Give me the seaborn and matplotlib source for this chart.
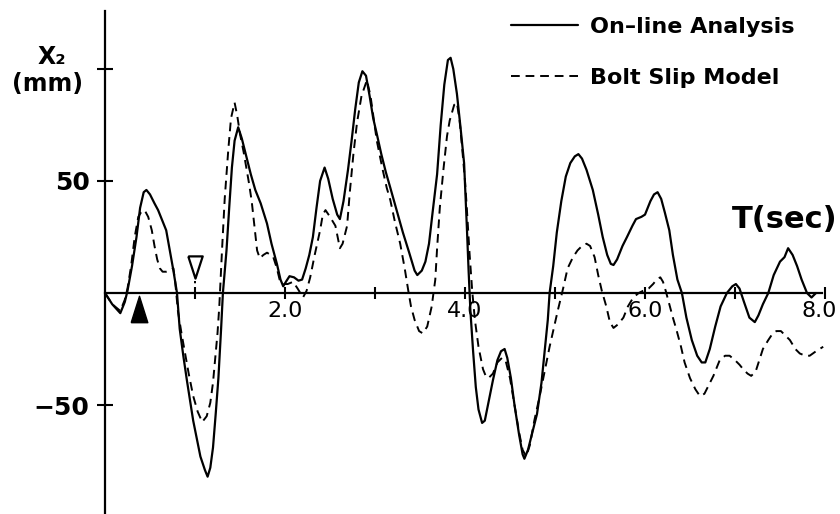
import numpy as np
import pandas as pd
import matplotlib
matplotlib.use("Agg")
import matplotlib.pyplot as plt
import matplotlib.transforms as mtransforms
import seaborn as sns

# time axis (sec) and displacement X2 (mm)
online_t = [0.00, 0.08, 0.17, 0.22, 0.25, 0.30, 0.35, 0.39, 0.43, 0.46, 0.50, 0.55, 0.59, 0.64,
            0.68, 0.72, 0.76, 0.80, 0.83, 0.87, 0.91, 0.98, 1.06, 1.11, 1.14, 1.17, 1.20, 1.23,
            1.26, 1.29, 1.31, 1.35, 1.38, 1.41, 1.44, 1.48, 1.52, 1.57, 1.62, 1.67, 1.73, 1.80,
            1.85, 1.91, 1.95, 1.98, 2.01, 2.05, 2.10, 2.15, 2.19, 2.23, 2.27, 2.31, 2.35, 2.39,
            2.44, 2.48, 2.53, 2.58, 2.61, 2.65, 2.70, 2.74, 2.78, 2.82, 2.86, 2.90, 2.94, 2.98,
            3.02, 3.07, 3.12, 3.17, 3.24, 3.31, 3.38, 3.44, 3.47, 3.52, 3.56, 3.60, 3.64, 3.69,
            3.73, 3.77, 3.81, 3.84, 3.87, 3.91, 3.95, 3.99, 4.02, 4.04, 4.06, 4.09, 4.12, 4.15,
            4.19, 4.22, 4.26, 4.31, 4.36, 4.40, 4.44, 4.47, 4.51, 4.55, 4.60, 4.64, 4.66, 4.70,
            4.75, 4.80, 4.85, 4.89, 4.92, 4.94, 4.98, 5.02, 5.07, 5.12, 5.17, 5.22, 5.26, 5.30,
            5.35, 5.42, 5.48, 5.53, 5.58, 5.62, 5.65, 5.69, 5.75, 5.80, 5.86, 5.90, 5.96, 6.00,
            6.06, 6.10, 6.14, 6.18, 6.22, 6.27, 6.31, 6.36, 6.41, 6.46, 6.52, 6.58, 6.63, 6.67,
            6.72, 6.78, 6.84, 6.91, 6.97, 7.01, 7.05, 7.10, 7.16, 7.22, 7.26, 7.31, 7.37, 7.43,
            7.50, 7.55, 7.59, 7.64, 7.69, 7.74, 7.80, 7.85, 7.90]
online_x2 = [0, -5, -9, -4, 1, 12, 25, 38, 45, 46, 44, 40, 37, 32,
             28, 19, 10, 0, -16, -28, -39, -57, -73, -79, -82, -78, -69, -54,
             -38, -16, 0, 19, 38, 56, 68, 74, 69, 61, 53, 46, 40, 31,
             22, 13, 6, 3, 5, 7.5, 7, 5.5, 6, 11, 17, 25, 38, 50,
             56, 51, 42, 35, 33, 41, 55, 68, 82, 94, 99, 97, 88, 78,
             71, 62, 54, 47, 37, 27, 18, 10, 8, 10, 14, 22, 36, 53,
             75, 93, 104, 105, 100, 89, 74, 58, 30, 10, -8, -26, -42, -52,
             -58, -57, -49, -39, -30, -26, -25, -29, -38, -50, -63, -72, -74, -70,
             -62, -54, -40, -24, -12, 0, 12, 27, 41, 52, 58, 61, 62, 60,
             55, 46, 35, 25, 17, 13, 12.5, 15, 21, 25, 30, 33, 34, 35,
             41, 44, 45, 42, 36, 28, 17, 6, 0, -11, -21, -28, -31, -31,
             -25, -15, -6, 0, 3, 4, 2, -4, -11, -13, -10, -5, 0, 8,
             14, 16, 20, 17, 12, 6, 0, -2, 0]

bolt_t = [0.00, 0.08, 0.17, 0.22, 0.25, 0.29, 0.33, 0.37, 0.40, 0.44, 0.48, 0.52, 0.55, 0.58,
          0.61, 0.64, 0.68, 0.72, 0.76, 0.78, 0.81, 0.85, 0.89, 0.93, 0.98, 1.03, 1.08, 1.13,
          1.17, 1.20, 1.22, 1.25, 1.27, 1.30, 1.33, 1.37, 1.40, 1.44, 1.47, 1.50, 1.54, 1.57,
          1.60, 1.63, 1.66, 1.69, 1.72, 1.76, 1.80, 1.84, 1.87, 1.91, 1.94, 1.98, 2.03, 2.09,
          2.14, 2.20, 2.24, 2.28, 2.33, 2.39, 2.42, 2.45, 2.50, 2.56, 2.59, 2.61, 2.64, 2.69,
          2.72, 2.76, 2.80, 2.85, 2.91, 2.95, 3.02, 3.08, 3.13, 3.17, 3.22, 3.28, 3.33, 3.37,
          3.40, 3.44, 3.49, 3.53, 3.58, 3.63, 3.67, 3.69, 3.72, 3.76, 3.80, 3.83, 3.88, 3.91,
          3.94, 3.97, 4.00, 4.02, 4.05, 4.08, 4.11, 4.15, 4.20, 4.23, 4.26, 4.31, 4.36, 4.41,
          4.45, 4.50, 4.55, 4.60, 4.64, 4.68, 4.72, 4.77, 4.83, 4.89, 4.94, 4.99, 5.03, 5.09,
          5.14, 5.20, 5.25, 5.30, 5.35, 5.39, 5.44, 5.48, 5.52, 5.57, 5.61, 5.65, 5.70, 5.76,
          5.81, 5.87, 5.93, 5.98, 6.04, 6.09, 6.13, 6.17, 6.20, 6.23, 6.27, 6.31, 6.35, 6.40,
          6.44, 6.50, 6.56, 6.61, 6.66, 6.71, 6.76, 6.83, 6.89, 6.94, 7.00, 7.05, 7.09, 7.14,
          7.18, 7.23, 7.27, 7.31, 7.37, 7.42, 7.46, 7.51, 7.56, 7.61, 7.67, 7.72, 7.78, 7.83,
          7.90, 7.98]
bolt_x2 = [0, -5, -8, -3, 2, 12, 25, 34, 36, 37, 34, 28, 21, 15,
           11, 9.5, 9.5, 10, 11, 5, -8, -18, -27, -36, -46, -53, -57.6, -55,
           -49, -40, -31, -18, -6, 19, 42, 64, 78, 85, 79, 71, 63, 56,
           49, 41, 30, 19, 15.5, 17, 18, 17, 16, 11, 6, 4, 4, 5,
           2, -2, 1, 7, 17, 28, 35, 37, 34, 30, 24, 20, 22, 30,
           45, 62, 76, 88, 95, 88, 68, 56, 47, 41.5, 32, 22, 11, 1,
           -6, -12, -17, -18, -15, -6, 6, 20, 38, 55, 70, 77, 84, 85,
           77, 64, 50, 38, 18, 1, -12, -24, -34, -37, -38, -36, -31, -29,
           -30, -38, -50, -62, -70, -73, -68, -57, -46, -34, -24, -15, -8, 2,
           11, 16, 19, 21, 22, 21, 16, 8, 1, -6, -13, -15.6, -14, -11,
           -6, -2, 0, 1, 2, 4, 6, 7, 5, 1, -5, -11, -16.5, -24,
           -31, -38, -43, -46, -45, -41, -37, -30, -28, -28, -30, -32, -34, -36,
           -37, -35, -30, -25, -21, -18, -17, -17, -19, -21, -25, -27, -28, -28,
           -26, -24]

# event markers on the time axis
solid_mark_t = [0.38]
solid_mark_x2 = [-7]
open_mark_t = [1.0]
open_mark_x2 = [11.5]

x_ticks = [1, 2, 3, 4, 5, 6, 7, 8]
x_tick_labels = ["", "2.0", "", "4.0", "", "6.0", "", "8.0"]
y_ticks = [-50, 50, 100]
y_tick_labels = ["\u221250", "50", ""]

sns.set_style("ticks", {"text.color": "black", "axes.labelcolor": "black",
                        "xtick.color": "black", "ytick.color": "black",
                        "axes.edgecolor": "black"})
plt.rcParams["font.family"] = ["DejaVu Sans"]

df_on = pd.DataFrame({"T": online_t, "X2": online_x2})
df_bs = pd.DataFrame({"T": bolt_t, "X2": bolt_x2})

fig = plt.figure(figsize=(8.4, 5.14), dpi=100)
ax = fig.add_axes([105 / 840, 0, 1 - 105 / 840, 1])

sns.lineplot(data=df_on, x="T", y="X2", ax=ax, color="black", lw=1.6,
             label="On\u2013line Analysis")
sns.lineplot(data=df_bs, x="T", y="X2", ax=ax, color="black", lw=1.4,
             linestyle=(0, (4.5, 3)), label="Bolt Slip Model")

# markers
tri_up = [(-0.63, -1), (0.63, -1), (0, 1), (-0.63, -1)]
tri_down = [(-0.65, 1), (0.65, 1), (0, -1), (-0.65, 1)]
ax.plot(solid_mark_t, solid_mark_x2, ls="none", marker=tri_up, ms=19,
        color="black", mew=1)
ax.plot(open_mark_t, open_mark_x2, ls="none", marker=tri_down, ms=16,
        mfc="white", mec="black", mew=1.6)
ax.vlines(open_mark_t, 0, [v - 6 for v in open_mark_x2], color="black",
          lw=1.4, linestyles=(0, (3, 2)))

ax.set_xlim(0, 735 / 90)
ax.set_ylim(-221 / 2.24, 293 / 2.24)

for s in ["top", "right"]:
    ax.spines[s].set_visible(False)
ax.spines["bottom"].set_position(("data", 0))
ax.spines["bottom"].set_bounds(0, 7.97)
ax.spines["left"].set_bounds(-221 / 2.24, 282 / 2.24)
for s in ["bottom", "left"]:
    ax.spines[s].set_linewidth(1.6)

ax.set_xticks(x_ticks, x_tick_labels)
ax.set_yticks(y_ticks, y_tick_labels)
ax.tick_params(axis="x", direction="inout", length=9, width=1.5, pad=1, labelsize=16)
ax.tick_params(axis="y", direction="inout", length=12, width=1.5, pad=5, labelsize=18)
for lbl in ax.get_yticklabels():
    lbl.set_fontweight("bold")
# nudge the last x label so it stays inside the figure edge
last = ax.get_xticklabels()[-1]
last.set_transform(last.get_transform() +
                   mtransforms.ScaledTranslation(-6 / 100, 0, fig.dpi_scale_trans))
ax.set_xlabel("")
ax.set_ylabel("")

fig.text(732 / 840, 1 - 228 / 514, "T(sec)", fontsize=22, fontweight="bold",
         ha="left", va="baseline")
fig.text(52 / 840, 1 - 57 / 514, "X\u2082", fontsize=17, fontweight="bold",
         ha="center", va="center")
fig.text(47 / 840, 1 - 84 / 514, "(mm)", fontsize=17, fontweight="bold",
         ha="center", va="center")

ax.legend(loc="upper left", bbox_to_anchor=(511 / 840, 1 - 17 / 514),
          bbox_transform=fig.transFigure, frameon=False, borderpad=0,
          borderaxespad=0, handlelength=3.0, handletextpad=0.55,
          labelspacing=1.4, prop={"weight": "bold", "size": 16})

fig.savefig("out.png", dpi=100)
